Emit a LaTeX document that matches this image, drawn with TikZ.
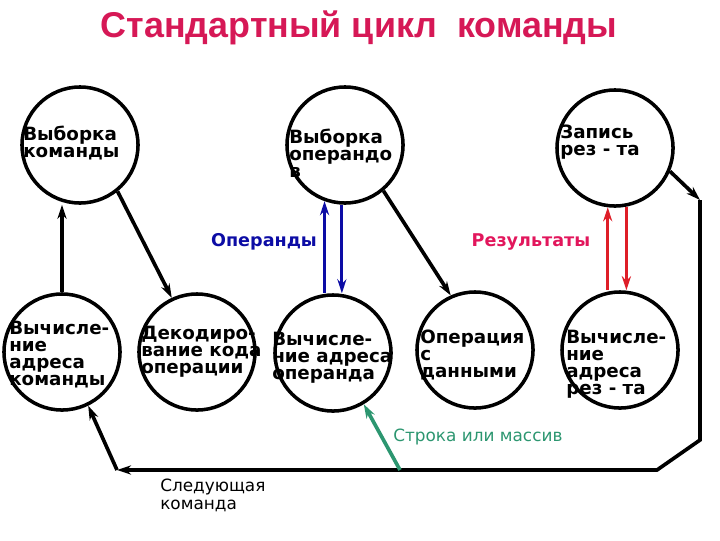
\documentclass[tikz,border=0pt]{standalone}
\usepackage{fontspec}
\setmainfont{DejaVu Sans}
\newfontfamily\titlefont{Liberation Sans}
\usepackage{tikz}
\usetikzlibrary{arrows.meta}
\usepackage{xcolor}
\definecolor{headcol}{RGB}{214,24,86}
\definecolor{opcol}{RGB}{12,12,165}
\definecolor{rescol}{RGB}{226,22,92}
\definecolor{resarr}{RGB}{222,30,40}
\definecolor{strcol}{RGB}{44,150,112}
\tikzset{
  stage/.style={circle,draw=black,line width=2.5pt,minimum size=2.9cm,inner sep=0pt},
  stagetxt/.style={font=\bfseries\fontsize{13}{12}\selectfont,align=left,anchor=north west,inner sep=0pt},
  tip/.style={-{Stealth[length=10pt,width=6.5pt]}},
  jflow/.style={black,line width=2.6pt,tip},
  jline/.style={black,line width=2.6pt,line join=miter},
  opflow/.style={opcol,line width=2.3pt,tip},
  resflow/.style={resarr,line width=2.3pt,tip},
  strflow/.style={strcol,line width=2.6pt,tip},
}
\begin{document}
\begin{tikzpicture}[x=0.025cm,y=-0.025cm]
  \useasboundingbox (0,0) rectangle (720,540);
  % ---- title ----
  \node[headcol,font=\titlefont\bfseries\fontsize{25.5}{28}\selectfont] (head) at (359,28) {Стандартный цикл\ \ команды};
  % ---- upper row ----
  \node[stage] (c1) at (80,145) {};
  \node[stage] (c2) at (345,145) {};
  \node[stage] (c3) at (615,148) {};
  \node[stagetxt] (t1) at (23,126) {Выборка\\команды};
  \node[stagetxt] (t2) at (289,129) {Выборка\\операндо\\в};
  \node[stagetxt] (t3) at (560,125) {Запись\\рез - та};
  % ---- lower row ----
  \node[stage] (c4) at (62,352) {};
  \node[stage] (c5) at (197,352) {};
  \node[stage] (c6) at (333,353) {};
  \node[stage] (c7) at (475,350) {};
  \node[stage] (c8) at (620,350) {};
  \node[stagetxt] (t4) at (9,321) {Вычисле-\\ние\\адреса\\команды};
  \node[stagetxt] (t5) at (141,326) {Декодиро-\\вание кода\\операции};
  \node[stagetxt] (t6) at (272,332) {Вычисле-\\ние адреса\\операнда};
  \node[stagetxt] (t7) at (420,330) {Операция\\с\\данными};
  \node[stagetxt] (t8) at (566,330) {Вычисле-\\ние\\адреса\\рез - та};
  % ---- labels ----
  \node[opcol,font=\bfseries\fontsize{12.5}{14}\selectfont] (lop) at (264,242) {Операнды};
  \node[rescol,font=\bfseries\fontsize{12.5}{14}\selectfont] (lres) at (531,242) {Результаты};
  \node[strcol,font=\fontsize{12}{14}\selectfont,anchor=west,inner sep=0pt] (lstr) at (393,437) {Строка или массив};
  \node[font=\fontsize{12}{12.8}\selectfont,align=left,anchor=north west,inner sep=0pt] (lnext) at (160,479) {Следующая\\команда};
  % ---- return path ----
  \coordinate (rt) at (700,200);
  \coordinate (rb) at (700,440);
  \coordinate (bb) at (657,470);
  \coordinate (bl) at (117,470);
  \coordinate (gs) at (400,470);
  % ---- the flows ----
  \draw[jflow] (c4.north) -- (c4.north |- c1.south);
  \draw[jflow] (c1.-51) -- (c5.115);
  \draw[jflow] (c2.-50) -- (c7.114);
  \draw[opflow] (c2.-110 |- c6.north) -- (c2.-110);
  \draw[opflow] (c2.-93) -- (c2.-93 |- c6.north);
  \draw[resflow] (c3.-97 |- c8.north) -- (c3.-97);
  \draw[resflow] (c3.-79) -- (c3.-79 |- c8.north);
  \draw[jflow] (c3.-23) -- (rt);
  \draw[jline,tip] (rt) -- (rb) -- (bb) -- (bl);
  \draw[jflow] (bl) -- (c4.-64);
  \draw[strflow] (gs) -- (c6.-59);
\end{tikzpicture}
\end{document}
